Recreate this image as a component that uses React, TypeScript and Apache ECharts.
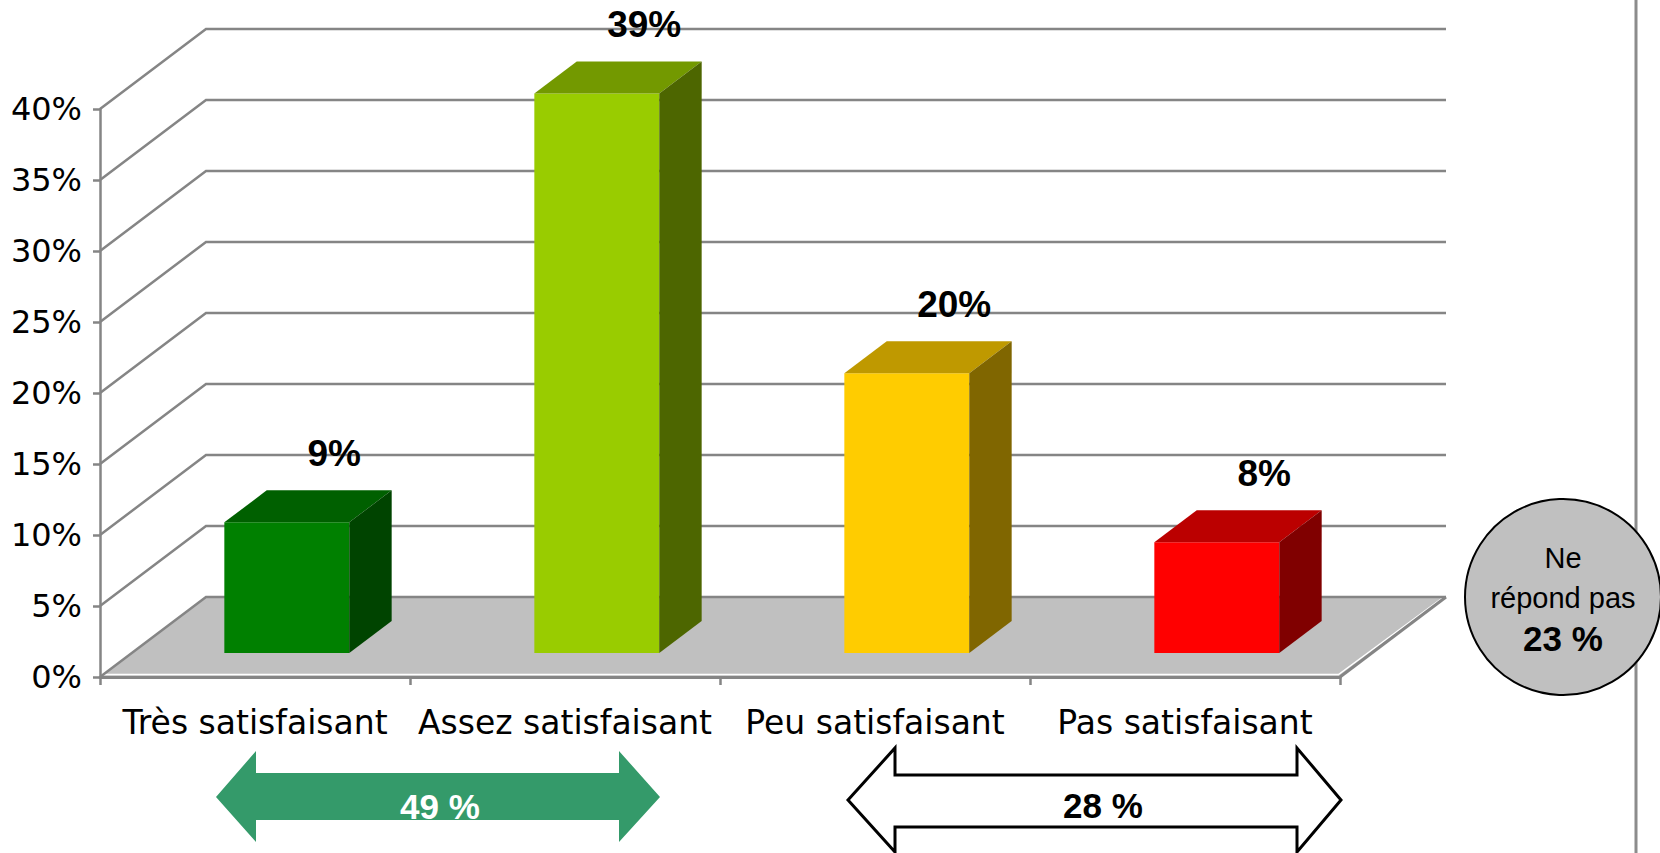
import React, { useEffect, useRef } from 'react';
import * as echarts from 'echarts';

// ---- data ----
const CATEGORIES = ['Très satisfaisant', 'Assez satisfaisant', 'Peu satisfaisant', 'Pas satisfaisant'];
const VALUES = [9.2, 39.4, 19.7, 7.8];
const Y_TICKS = [0, 5, 10, 15, 20, 25, 30, 35, 40];
const FRONT_COLORS = ['#008000', '#99cc00', '#ffcc00', '#ff0000'];
const TOP_COLORS = ['#006000', '#739900', '#bf9900', '#bb0000'];
const SIDE_COLORS = ['#004400', '#4d6600', '#806600', '#800000'];
const GROUP_LABELS = ['49 %', '28 %'];
const NO_ANSWER_LINES = ['Ne', 'répond pas', '23 %'];

// ---- 3D projection (oblique) ----
const DX = 106;
const DY = 80;
const BAR_RATIO = 0.403;
const BAR_FRONT = 0.3;
const BAR_DEPTH = 0.4;
const GRID_COLOR = '#858585';

function wallRender(params: any, api: any) {
  const v = api.value(1);
  const cs = params.coordSys;
  const left = cs.x;
  const right = cs.x + cs.width;
  const y = api.coord([0, v])[1];
  const children: any[] = [];
  if (v === 0) {
    children.push({
      type: 'polygon',
      shape: { points: [[left, y], [right, y], [right + DX, y - DY], [left + DX, y - DY]] },
      style: { fill: '#c0c0c0' },
    });
    children.push({
      type: 'polyline',
      shape: { points: [[left + 3, y - 2.5], [right - 1.5, y - 2.5], [right + DX - 3, y - DY + 0.5]] },
      style: { stroke: '#ffffff', lineWidth: 1.5, fill: 'none' },
    });
    children.push({
      type: 'line',
      shape: { x1: right, y1: y, x2: right + DX, y2: y - DY },
      style: { stroke: GRID_COLOR, lineWidth: 3 },
    });
  }
  children.push({
    type: 'polyline',
    shape: { points: [[left, y], [left + DX, y - DY], [right + DX, y - DY]] },
    style: { stroke: GRID_COLOR, lineWidth: 2.5, fill: 'none' },
  });
  return { type: 'group', children };
}

function barRender(params: any, api: any) {
  const i = api.value(0);
  const v = api.value(1);
  const base = api.coord([i, 0]);
  const topY = api.coord([i, v])[1];
  const bw = api.size([1, 0])[0] * BAR_RATIO;
  const x0 = base[0] + BAR_FRONT * DX - bw / 2;
  const x1 = x0 + bw;
  const yb = base[1] - BAR_FRONT * DY;
  const yt = topY - BAR_FRONT * DY;
  const bdx = BAR_DEPTH * DX;
  const bdy = BAR_DEPTH * DY;
  const backCx = base[0] + (BAR_FRONT + BAR_DEPTH) * DX;
  const backTop = topY - (BAR_FRONT + BAR_DEPTH) * DY;
  return {
    type: 'group',
    children: [
      { type: 'rect', shape: { x: x0, y: yt, width: bw, height: yb - yt }, style: { fill: FRONT_COLORS[i] } },
      {
        type: 'polygon',
        shape: { points: [[x0, yt], [x1, yt], [x1 + bdx, yt - bdy], [x0 + bdx, yt - bdy]] },
        style: { fill: TOP_COLORS[i] },
      },
      {
        type: 'polygon',
        shape: { points: [[x1, yt], [x1 + bdx, yt - bdy], [x1 + bdx, yb - bdy], [x1, yb]] },
        style: { fill: SIDE_COLORS[i] },
      },
      {
        type: 'text',
        style: {
          text: Math.round(v) + '%',
          x: backCx + 5,
          y: backTop - 37,
          align: 'center',
          verticalAlign: 'middle',
          fill: '#000',
          fontSize: 37,
          fontWeight: 'bold',
          fontFamily: '"Liberation Sans", Arial, sans-serif',
        },
      },
    ],
  };
}

export default function App() {
  const ref = useRef<HTMLDivElement>(null);
  useEffect(() => {
    const chart = echarts.init(ref.current!, null, { renderer: 'svg' });
    const font = '"Liberation Sans", Arial, sans-serif';
    const option: any = {
      animation: false,
      backgroundColor: '#ffffff',
      grid: { left: 100, top: 109, width: 1240, height: 568, containLabel: false },
      xAxis: {
        type: 'category',
        data: CATEGORIES,
        z: 5,
        axisLine: { show: true, lineStyle: { color: GRID_COLOR, width: 3 } },
        axisTick: { show: true, length: 8, interval: 0, lineStyle: { color: GRID_COLOR, width: 2.5 } },
        axisLabel: { interval: 0, margin: 29, color: '#000', fontFamily: '"DejaVu Sans"', fontSize: 33 },
        splitLine: { show: false },
      },
      yAxis: {
        type: 'value',
        min: 0,
        max: 40,
        interval: 5,
        z: 5,
        axisLine: { show: true, lineStyle: { color: GRID_COLOR, width: 2.5 } },
        axisTick: { show: true, length: 7, lineStyle: { color: GRID_COLOR, width: 2.5 } },
        axisLabel: { formatter: '{value}%', margin: 18, color: '#000', fontFamily: '"DejaVu Sans"', fontSize: 32 },
        splitLine: { show: false },
      },
      series: [
        {
          type: 'custom',
          name: 'walls',
          z: 1,
          silent: true,
          clip: false,
          data: Y_TICKS.map((v) => [0, v]),
          encode: { x: 0, y: 1 },
          renderItem: wallRender,
        },
        {
          type: 'custom',
          name: 'bars',
          z: 3,
          clip: false,
          data: VALUES.map((v, i) => [i, v]),
          encode: { x: 0, y: 1 },
          renderItem: barRender,
        },
      ],
      graphic: [
        { type: 'line', shape: { x1: 1636, y1: 0, x2: 1636, y2: 853 }, style: { stroke: '#8c8c8c', lineWidth: 3 } },
        {
          type: 'polygon',
          shape: {
            points: [[216, 797], [256, 751], [256, 773], [619, 773], [619, 751], [660, 797], [619, 842], [619, 820], [256, 820], [256, 842]],
          },
          style: { fill: '#349a6a' },
        },
        {
          type: 'text',
          x: 440,
          y: 806,
          style: { text: GROUP_LABELS[0], fill: '#ffffff', font: 'bold 35px ' + font, align: 'center', verticalAlign: 'middle' },
        },
        {
          type: 'polygon',
          shape: {
            points: [[848, 800], [895, 748], [895, 775], [1297, 775], [1297, 748], [1341, 800], [1297, 852], [1297, 827], [895, 827], [895, 852]],
          },
          style: { fill: '#ffffff', stroke: '#000000', lineWidth: 3 },
        },
        {
          type: 'text',
          x: 1103,
          y: 805,
          style: { text: GROUP_LABELS[1], fill: '#000000', font: 'bold 35px ' + font, align: 'center', verticalAlign: 'middle' },
        },
        {
          type: 'circle',
          shape: { cx: 1563, cy: 597, r: 98 },
          style: { fill: '#c0c0c0', stroke: '#000000', lineWidth: 2 },
        },
        {
          type: 'text',
          x: 1563,
          y: 558,
          style: { text: NO_ANSWER_LINES[0], fill: '#000', font: '29px ' + font, align: 'center', verticalAlign: 'middle' },
        },
        {
          type: 'text',
          x: 1563,
          y: 598,
          style: { text: NO_ANSWER_LINES[1], fill: '#000', font: '29px ' + font, align: 'center', verticalAlign: 'middle' },
        },
        {
          type: 'text',
          x: 1563,
          y: 638,
          style: { text: NO_ANSWER_LINES[2], fill: '#000', font: 'bold 35px ' + font, align: 'center', verticalAlign: 'middle' },
        },
      ],
    };
    chart.setOption(option);
    return () => chart.dispose();
  }, []);
  return <div ref={ref} style={{ position: 'fixed', left: 0, top: 0, width: 1660, height: 853 }} />;
}
